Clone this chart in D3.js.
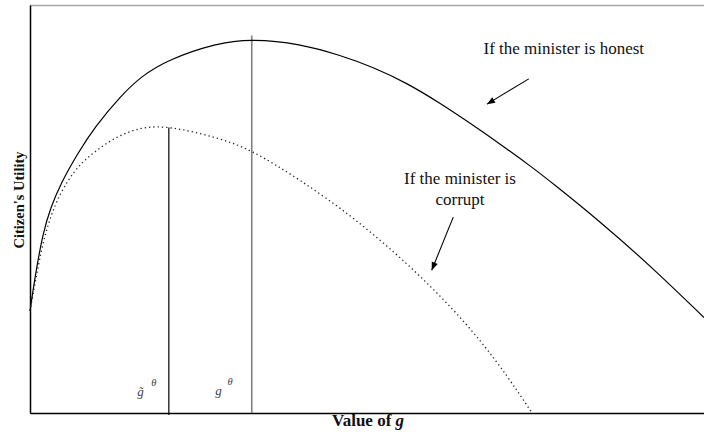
<!DOCTYPE html>
<html>
<head>
<meta charset="utf-8">
<script src="https://cdn.jsdelivr.net/npm/d3@7"></script>
<style>
  body { margin: 0; background: #fff; }
  svg { display: block; }
  .ann { font-family: "Liberation Serif", "Times New Roman", serif; font-size: 17px; fill: #111; }
  .axis-title { font-family: "Liberation Serif", "Times New Roman", serif; font-weight: bold; fill: #111; }
  .glabel { font-family: "Liberation Serif", "Times New Roman", serif; font-style: italic; fill: #444; }
</style>
</head>
<body>
<div id="chart"></div>
<script>
// Honest / corrupt utility curves (g on 0..10, utility on 0..10)
const honestG = [0, 0.074, 0.19, 0.31, 0.46, 0.71, 0.96, 1.35, 1.65, 2.03, 2.77, 3.29, 4.01, 4.60, 5.09, 5.59, 6.08, 6.57, 7.08, 7.46, 7.74, 8.46, 9.23, 10];
const honestU = [2.5, 3.33, 4.41, 5.05, 5.64, 6.37, 7.01, 7.78, 8.25, 8.65, 9.07, 9.17, 9.05, 8.77, 8.48, 8.09, 7.60, 7.06, 6.47, 6.01, 5.65, 4.69, 3.57, 2.34];

const corruptG = [0, 0.12, 0.22, 0.37, 0.56, 0.76, 0.96, 1.20, 1.45, 1.71, 2.06, 2.77, 3.29, 4.01, 4.78, 5.77, 6.75, 7.45];
const corruptU = [2.5, 3.60, 4.38, 5.12, 5.71, 6.13, 6.40, 6.69, 6.89, 7.01, 7.03, 6.76, 6.45, 5.71, 4.83, 3.43, 1.72, 0];

// optimal g for each case and the height of the marker lines
const markers = [
  { name: 'tilde', g: 2.06, top: 7.0, color: '#000', w: 1.2 },
  { name: 'plain', g: 3.29, top: 9.25, color: '#808080', w: 1.6 }
];

// annotation labels and arrows (data units)
const labels = [
  { lines: ['If the minister is honest'], g: 7.92, u: 8.80 },
  { lines: ['If the minister is', 'corrupt'], g: 6.38, u: 5.61 }
];
const arrows = [
  { from: [7.40, 8.19], to: [6.78, 7.57] },
  { from: [6.28, 4.80], to: [5.96, 3.50] }
];

const width = 704, height = 439;
const margin = { top: 5, right: 0, bottom: 26, left: 30 };

const svg = d3.select('#chart').append('svg')
  .attr('width', width)
  .attr('height', height);

const x = d3.scaleLinear().domain([0, 10]).range([margin.left, width - margin.right]);
const y = d3.scaleLinear().domain([0, 10]).range([height - margin.bottom, margin.top]);

svg.append('defs').append('marker')
  .attr('id', 'arrowhead')
  .attr('viewBox', '0 -5 10 10')
  .attr('refX', 10)
  .attr('refY', 0)
  .attr('orient', 'auto')
  .attr('markerUnits', 'userSpaceOnUse')
  .attr('markerWidth', 9)
  .attr('markerHeight', 8)
  .append('path')
  .attr('d', 'M0,-4L10,0L0,4Z')
  .attr('fill', '#000');

// top frame line
svg.append('line')
  .attr('x1', x(0)).attr('x2', x(10))
  .attr('y1', y(10) + 0.5).attr('y2', y(10) + 0.5)
  .attr('stroke', '#a8a8a8')
  .attr('stroke-width', 1.5);

// axes without ticks
svg.append('g')
  .attr('transform', `translate(0,${y(0)})`)
  .call(d3.axisBottom(x).ticks(0).tickSizeOuter(0))
  .select('.domain').attr('stroke-width', 1.5);

svg.append('g')
  .attr('transform', `translate(${x(0)},0)`)
  .call(d3.axisLeft(y).ticks(0).tickSizeOuter(0))
  .select('.domain').attr('stroke-width', 1.5);

// marker lines at the maxima
svg.append('g')
  .selectAll('line')
  .data(markers)
  .join('line')
  .attr('x1', d => x(d.g)).attr('x2', d => x(d.g))
  .attr('y1', d => y(0) + (d.name === 'tilde' ? 2 : 0)).attr('y2', d => y(d.top))
  .attr('stroke', d => d.color)
  .attr('stroke-width', d => d.w);

// smooth the hand-read points
const line = d3.line().curve(d3.curveBasis);

svg.append('path')
  .attr('d', line(honestG.map((g, i) => [x(g), y(honestU[i])])))
  .attr('fill', 'none')
  .attr('stroke', '#000')
  .attr('stroke-width', 1.2);

svg.append('path')
  .attr('d', line(corruptG.map((g, i) => [x(g), y(corruptU[i])])))
  .attr('fill', 'none')
  .attr('stroke', '#222')
  .attr('stroke-width', 1.3)
  .attr('stroke-dasharray', '1.3,3');

// g labels near the bottom
const gl = svg.append('g');
gl.append('text').attr('class', 'glabel').attr('font-size', 13)
  .attr('x', x(1.59)).attr('y', y(0) - 17).text('g\u0303');
gl.append('text').attr('class', 'glabel').attr('font-size', 10.5)
  .attr('x', x(1.80)).attr('y', y(0) - 27).text('\u03b8');
gl.append('text').attr('class', 'glabel').attr('font-size', 13)
  .attr('x', x(2.75)).attr('y', y(0) - 18).text('g');
gl.append('text').attr('class', 'glabel').attr('font-size', 10.5)
  .attr('x', x(2.93)).attr('y', y(0) - 28).text('\u03b8');

// annotations
labels.forEach(l => {
  const t = svg.append('text')
    .attr('class', 'ann')
    .attr('text-anchor', 'middle')
    .attr('x', x(l.g))
    .attr('y', y(l.u));
  l.lines.forEach((s, i) => {
    t.append('tspan').attr('x', x(l.g)).attr('dy', i === 0 ? 0 : 21).text(s);
  });
});

svg.append('g')
  .selectAll('line')
  .data(arrows)
  .join('line')
  .attr('x1', d => x(d.from[0])).attr('y1', d => y(d.from[1]))
  .attr('x2', d => x(d.to[0])).attr('y2', d => y(d.to[1]))
  .attr('stroke', '#000')
  .attr('stroke-width', 1.1)
  .attr('marker-end', 'url(#arrowhead)');

// axis titles
const xt = svg.append('text')
  .attr('class', 'axis-title')
  .attr('font-size', 17)
  .attr('text-anchor', 'middle')
  .attr('x', 368)
  .attr('y', 426);
xt.append('tspan').text('Value of ');
xt.append('tspan').attr('font-style', 'italic').text('g');

svg.append('text')
  .attr('class', 'axis-title')
  .attr('font-size', 14.5)
  .attr('text-anchor', 'middle')
  .attr('transform', 'translate(24,200) rotate(-90)')
  .text("Citizen's Utility");
</script>
</body>
</html>
